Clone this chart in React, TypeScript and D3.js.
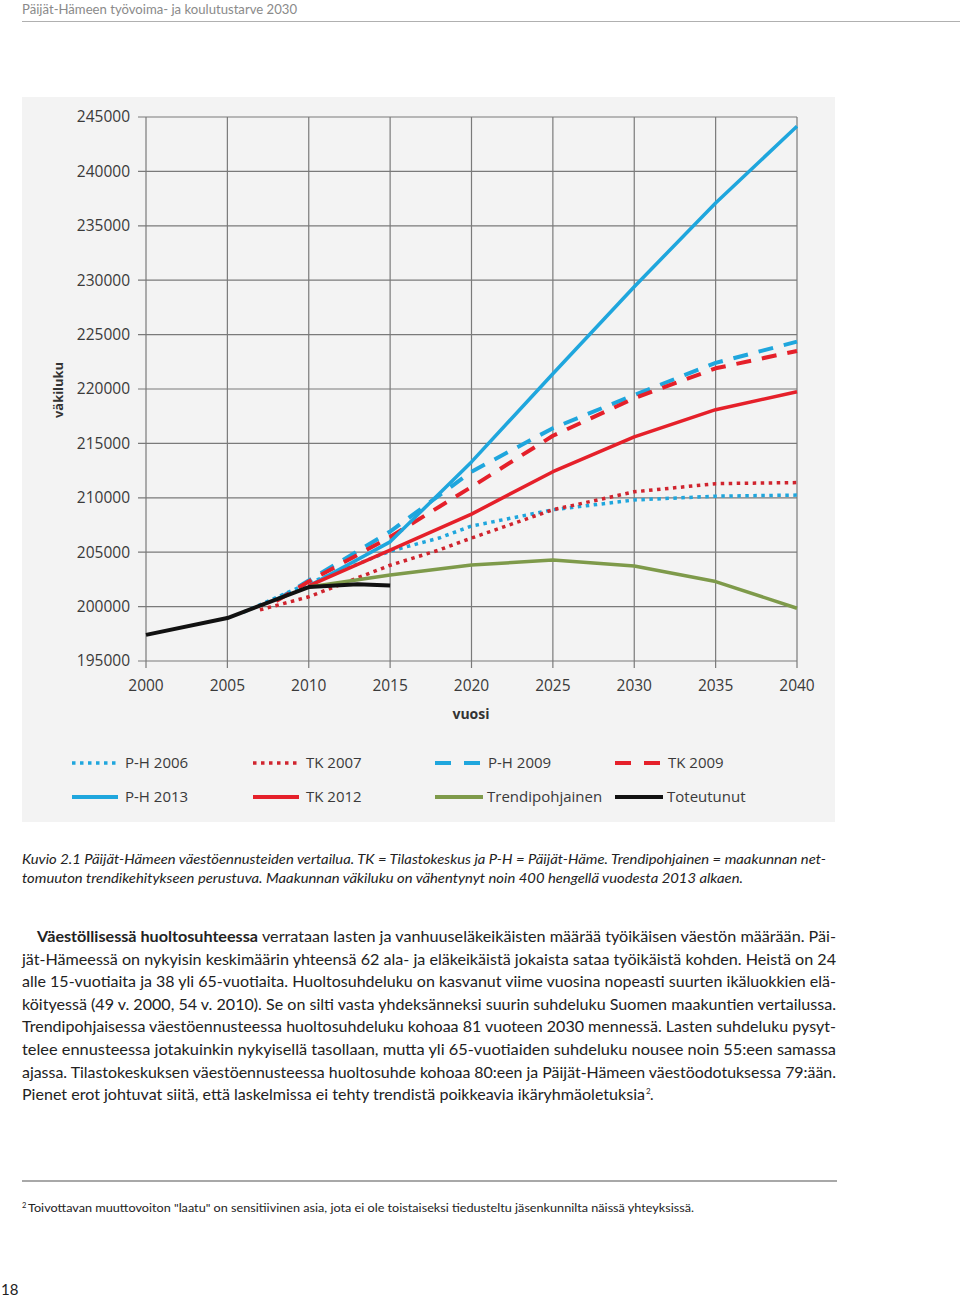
import React from "react";
import * as d3 from "d3";

// ---- Data ----
const xTickYears = [2000, 2005, 2010, 2015, 2020, 2025, 2030, 2035, 2040];
const yTickValues = [195000, 200000, 205000, 210000, 215000, 220000, 225000, 230000, 235000, 240000, 245000];

const ph2006Years = [2006, 2010, 2015, 2018, 2020, 2025, 2030, 2035, 2040];
const ph2006Values = [199500, 202150, 205100, 206300, 207400, 208900, 209800, 210150, 210250];

const tk2007Years = [2007, 2010, 2015, 2018, 2020, 2025, 2030, 2035, 2040];
const tk2007Values = [199700, 200900, 203800, 205200, 206300, 208900, 210550, 211300, 211400];

const ph2009Years = [2008, 2010, 2015, 2020, 2025, 2030, 2035, 2040];
const ph2009Values = [200600, 202400, 206900, 212400, 216400, 219450, 222400, 224350];

const tk2009Years = [2008, 2010, 2015, 2020, 2025, 2030, 2035, 2040];
const tk2009Values = [200500, 202300, 206400, 211000, 215700, 219150, 221900, 223500];

const ph2013Years = [2010, 2015, 2020, 2025, 2030, 2035, 2040];
const ph2013Values = [201900, 205950, 213300, 221400, 229400, 237100, 244150];

const tk2012Years = [2010, 2015, 2020, 2025, 2030, 2035, 2040];
const tk2012Values = [201900, 205200, 208500, 212400, 215600, 218100, 219750];

const trendYears = [2010, 2015, 2020, 2025, 2030, 2035, 2040];
const trendValues = [201800, 202900, 203820, 204280, 203730, 202300, 199850];

const actualYears = [2000, 2005, 2010, 2013, 2015];
const actualValues = [197400, 198950, 201800, 202050, 201950];

const BLUE = "#1fa6dd";
const RED = "#e5202a";
const DARKRED = "#d0242e";
const GREEN = "#7e9a4a";
const BLACK = "#111111";

type Series = {
  name: string;
  years: number[];
  values: number[];
  color: string;
  width: number;
  dash: string | null;
  kind: "dot" | "dash" | "solid";
};

const series: Series[] = [
  { name: "P-H 2006", years: ph2006Years, values: ph2006Values, color: BLUE, width: 3.5, dash: "3.5,4.5", kind: "dot" },
  { name: "TK 2007", years: tk2007Years, values: tk2007Values, color: DARKRED, width: 3.5, dash: "3.5,4.5", kind: "dot" },
  { name: "P-H 2009", years: ph2009Years, values: ph2009Values, color: BLUE, width: 4, dash: "15,11", kind: "dash" },
  { name: "TK 2009", years: tk2009Years, values: tk2009Values, color: RED, width: 4, dash: "15,11", kind: "dash" },
  { name: "P-H 2013", years: ph2013Years, values: ph2013Values, color: BLUE, width: 3.5, dash: null, kind: "solid" },
  { name: "TK 2012", years: tk2012Years, values: tk2012Values, color: RED, width: 3.5, dash: null, kind: "solid" },
  { name: "Trendipohjainen", years: trendYears, values: trendValues, color: GREEN, width: 3.5, dash: null, kind: "solid" },
  { name: "Toteutunut", years: actualYears, values: actualValues, color: BLACK, width: 4, dash: null, kind: "solid" },
];

// ---- Layout ----
const W = 960;
const H = 1298;
const plotLeft = 146;
const plotRight = 797;
const plotTop = 117;
const plotBottom = 661;

const x = d3.scaleLinear().domain([2000, 2040]).range([plotLeft, plotRight]);
const y = d3.scaleLinear().domain([195000, 245000]).range([plotBottom, plotTop]);

const chartFont = "'Open Sans', sans-serif";
const textFont = "Lato, sans-serif";

const legendPos = [
  { x: 72, y: 763 },
  { x: 253, y: 763 },
  { x: 435, y: 763 },
  { x: 615, y: 763 },
  { x: 72, y: 797 },
  { x: 253, y: 797 },
  { x: 435, y: 797 },
  { x: 615, y: 797 },
];

const bodyLines = [
  "jät-Hämeessä on nykyisin keskimäärin yhteensä 62 ala- ja eläkeikäistä jokaista sataa työikäistä kohden. Heistä on 24",
  "alle 15-vuotiaita ja 38 yli 65-vuotiaita. Huoltosuhdeluku on kasvanut viime vuosina nopeasti suurten ikäluokkien elä-",
  "köityessä (49 v. 2000, 54 v. 2010). Se on silti vasta yhdeksänneksi suurin suhdeluku Suomen maakuntien vertailussa.",
  "Trendipohjaisessa väestöennusteessa huoltosuhdeluku kohoaa 81 vuoteen 2030 mennessä. Lasten suhdeluku pysyt-",
  "telee ennusteessa jotakuinkin nykyisellä tasollaan, mutta yli 65-vuotiaiden suhdeluku nousee noin 55:een samassa",
  "ajassa. Tilastokeskuksen väestöennusteessa huoltosuhde kohoaa 80:een ja Päijät-Hämeen väestöodotuksessa 79:ään.",
];

export default function App() {
  const line = d3
    .line<[number, number]>()
    .x((d) => x(d[0]))
    .y((d) => y(d[1]))
    .curve(d3.curveLinear);

  return (
    <svg
      width={W}
      height={H}
      style={{ position: "absolute", left: 0, top: 0, background: "#fff" }}
      xmlns="http://www.w3.org/2000/svg"
    >
      {/* Header */}
      <text x={22} y={14} fontFamily={textFont} fontSize={13.5} fill="#8a8a8a" textLength={275} lengthAdjust="spacingAndGlyphs">
        Päijät-Hämeen työvoima- ja koulutustarve 2030
      </text>
      <line x1={22} x2={960} y1={21.5} y2={21.5} stroke="#b0b0b0" strokeWidth={1} />

      {/* Chart panel */}
      <rect x={22} y={97} width={813} height={725} fill="#f3f3f3" />

      {/* Grid */}
      {yTickValues.map((v) => (
        <g key={"yg" + v}>
          <line x1={plotLeft - 8} x2={plotRight} y1={y(v)} y2={y(v)} stroke="#7a7a7a" strokeWidth={1.2} />
          <text
            x={130}
            y={y(v)}
            dy="0.35em"
            textAnchor="end"
            fontFamily={chartFont}
            fontSize={15.5}
            fill="#3a3a3a"
          >
            {v}
          </text>
        </g>
      ))}
      {xTickYears.map((yr) => (
        <g key={"xg" + yr}>
          <line x1={x(yr)} x2={x(yr)} y1={plotTop} y2={plotBottom + 7} stroke="#7a7a7a" strokeWidth={1.2} />
          <text
            x={x(yr)}
            y={686}
            dy="0.35em"
            textAnchor="middle"
            fontFamily={chartFont}
            fontSize={15.5}
            fill="#3a3a3a"
          >
            {yr}
          </text>
        </g>
      ))}

      {/* Axis titles */}
      <text x={471} y={714} dy="0.35em" textAnchor="middle" fontFamily={chartFont} fontSize={14} fontWeight="bold" fill="#333">
        vuosi
      </text>
      <text
        transform={`translate(58,390) rotate(-90)`}
        textAnchor="middle"
        dy="0.35em"
        fontFamily={chartFont}
        fontSize={13}
        fontWeight="bold"
        fill="#333"
        textLength={56}
        lengthAdjust="spacingAndGlyphs"
      >
        väkiluku
      </text>

      {/* Series */}
      {series.map((s) => (
        <path
          key={s.name}
          d={line(s.years.map((yr, i) => [yr, s.values[i]] as [number, number])) || ""}
          fill="none"
          stroke={s.color}
          strokeWidth={s.width}
          strokeDasharray={s.dash || undefined}
          strokeLinecap="butt"
          strokeLinejoin="round"
        />
      ))}

      {/* Legend */}
      {series.map((s, i) => {
        const p = legendPos[i];
        return (
          <g key={"lg" + s.name}>
            {s.kind === "dash" ? (
              <>
                <line x1={p.x} x2={p.x + 16} y1={p.y} y2={p.y} stroke={s.color} strokeWidth={4} />
                <line x1={p.x + 29} x2={p.x + 45} y1={p.y} y2={p.y} stroke={s.color} strokeWidth={4} />
              </>
            ) : (
              <line
                x1={p.x}
                x2={p.x + (i >= 6 ? 48 : 46)}
                y1={p.y}
                y2={p.y}
                stroke={s.color}
                strokeWidth={s.kind === "dot" ? 3.5 : 4}
                strokeDasharray={s.dash || undefined}
              />
            )}
            <text
              x={p.x + (i >= 6 ? 52 : 53)}
              y={p.y}
              dy="0.35em"
              fontFamily={chartFont}
              fontSize={15}
              fill="#3a3a3a"
            >
              {s.name}
            </text>
          </g>
        );
      })}

      {/* Caption */}
      <text x={22} y={864} fontFamily={textFont} fontStyle="italic" fontSize={14} fill="#222" textLength={804} lengthAdjust="spacingAndGlyphs">
        Kuvio 2.1 Päijät-Hämeen väestöennusteiden vertailua. TK = Tilastokeskus ja P-H = Päijät-Häme. Trendipohjainen = maakunnan net-
      </text>
      <text x={22} y={883} fontFamily={textFont} fontStyle="italic" fontSize={14} fill="#222" textLength={721} lengthAdjust="spacingAndGlyphs">
        tomuuton trendikehitykseen perustuva. Maakunnan väkiluku on vähentynyt noin 400 hengellä vuodesta 2013 alkaen.
      </text>

      {/* Body text */}
      <text x={37} y={942} fontFamily={textFont} fontWeight="bold" fontSize={15} fill="#222" textLength={221} lengthAdjust="spacingAndGlyphs">
        Väestöllisessä huoltosuhteessa
      </text>
      <text x={262} y={942} fontFamily={textFont} fontSize={15} fill="#222" textLength={574} lengthAdjust="spacingAndGlyphs">
        verrataan lasten ja vanhuuseläkeikäisten määrää työikäisen väestön määrään. Päi-
      </text>
      {bodyLines.map((t, i) => (
        <text
          key={"bl" + i}
          x={22}
          y={942 + (i + 1) * 22.6}
          fontFamily={textFont}
          fontSize={15}
          fill="#222"
          textLength={814}
          lengthAdjust="spacingAndGlyphs"
        >
          {t}
        </text>
      ))}
      <text x={22} y={942 + 7 * 22.6} fontFamily={textFont} fontSize={15} fill="#222" textLength={623} lengthAdjust="spacingAndGlyphs">
        Pienet erot johtuvat siitä, että laskelmissa ei tehty trendistä poikkeavia ikäryhmäoletuksia
      </text>
      <text x={646} y={942 + 7 * 22.6 - 6} fontFamily={textFont} fontSize={8} fill="#222">
        2
      </text>
      <text x={650} y={942 + 7 * 22.6} fontFamily={textFont} fontSize={15} fill="#222">
        .
      </text>

      {/* Footnote */}
      <line x1={22} x2={837} y1={1181} y2={1181} stroke="#a8a8a8" strokeWidth={2} />
      <text x={22} y={1208} fontFamily={textFont} fontSize={7.5} fill="#222">
        2
      </text>
      <text x={28} y={1212} fontFamily={textFont} fontSize={12} fill="#222" textLength={666} lengthAdjust="spacingAndGlyphs">
        Toivottavan muuttovoiton "laatu" on sensitiivinen asia, jota ei ole toistaiseksi tiedusteltu jäsenkunnilta näissä yhteyksissä.
      </text>

      {/* Page number */}
      <text x={1} y={1295} fontFamily={textFont} fontSize={15} fill="#222">
        18
      </text>
    </svg>
  );
}
